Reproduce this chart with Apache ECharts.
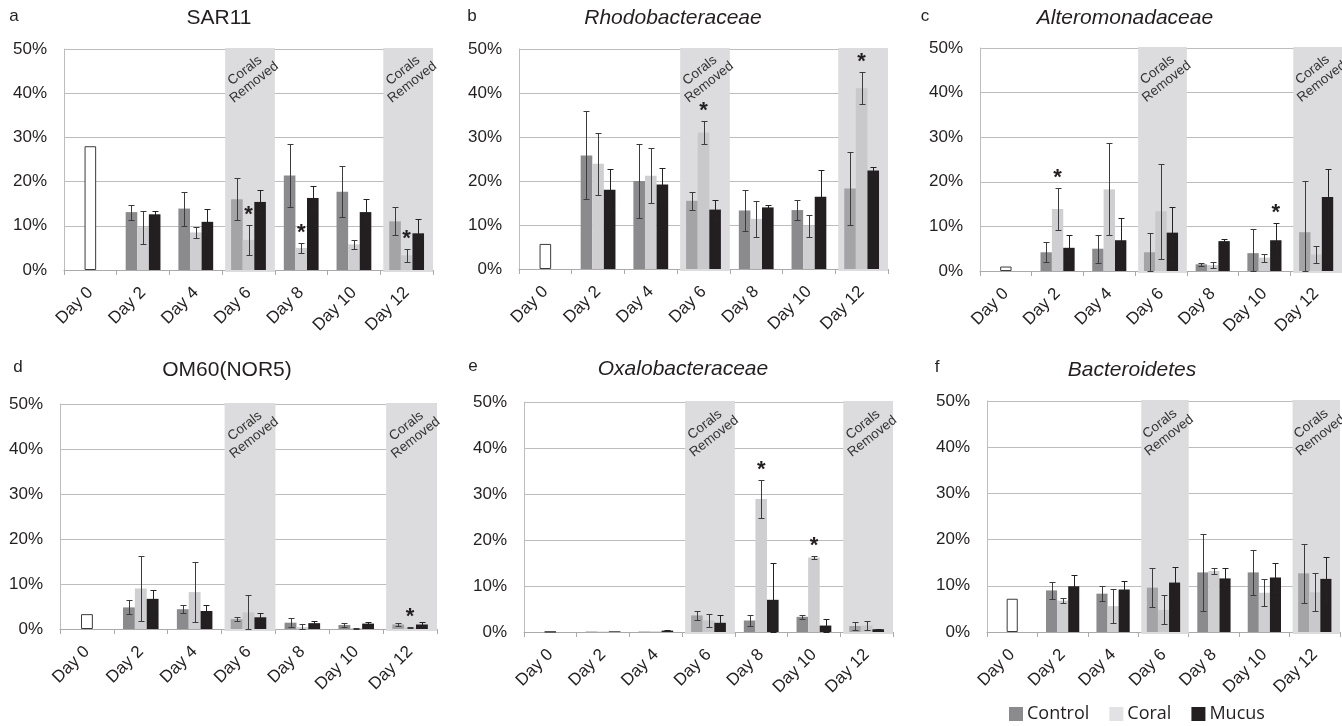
<!DOCTYPE html>
<html>
<head>
<meta charset="utf-8">
<script src="https://cdn.jsdelivr.net/npm/echarts@6/dist/echarts.min.js"></script>
<style>
  html, body { margin: 0; padding: 0; background: #ffffff; }
  #chart { width: 1342px; height: 726px; }
</style>
</head>
<body>
<div id="chart"></div>
<script>
// Sampling days and treatments
const days = ['Day 0', 'Day 2', 'Day 4', 'Day 6', 'Day 8', 'Day 10', 'Day 12'];
const groups = ['Control', 'Coral', 'Mucus'];
const removalDays = [3, 6];            // indices of 'Day 6' and 'Day 12'
const yTicks = [0, 10, 20, 30, 40, 50];

const panelLetters = ['a', 'b', 'c', 'd', 'e', 'f'];
const panelTitles = ['SAR11', 'Rhodobacteraceae', 'Alteromonadaceae', 'OM60(NOR5)', 'Oxalobacteraceae', 'Bacteroidetes'];
const titleItalic = [false, true, true, false, true, true];
// which removal columns carry the "Corals Removed" note, per panel
const removalNotes = [[3, 6], [3], [3, 6], [3, 6], [3, 6], [3, 6]];

// Day 0 starting community (relative abundance, %)
const day0 = [28.0, 5.7, 1.0, 3.3, 0.05, 7.2];

// SAR11
const sar11Control   = [null, 13.1, 13.9, 16.0, 21.4, 17.7, 11.0];
const sar11ControlSd = [null, 1.7, 3.85, 4.75, 7.2, 5.8, 3.15];
const sar11Coral     = [null, 9.7, 8.5, 6.8, 5.0, 5.8, 3.3];
const sar11CoralSd   = [null, 3.75, 1.2, 3.45, 1.2, 0.95, 1.4];
const sar11Mucus     = [null, 12.6, 10.9, 15.4, 16.3, 13.1, 8.3];
const sar11MucusSd   = [null, 0.65, 2.9, 2.6, 2.7, 2.9, 3.2];
const sar11Sig       = [[3, 1], [4, 1], [6, 1]];

// Rhodobacteraceae
const rhodoControl   = [null, 25.8, 20.0, 15.5, 13.3, 13.4, 18.3];
const rhodoControlSd = [null, 10.0, 8.3, 2.1, 4.65, 2.35, 8.2];
const rhodoCoral     = [null, 23.9, 21.2, 31.0, 11.4, 9.8, 41.1];
const rhodoCoralSd   = [null, 7.05, 6.2, 2.65, 4.05, 2.45, 3.65];
const rhodoMucus     = [null, 18.0, 19.2, 13.5, 14.0, 16.4, 22.4];
const rhodoMucusSd   = [null, 4.7, 3.8, 2.2, 0.5, 6.1, 0.8];
const rhodoSig       = [[3, 1], [6, 1]];

// Alteromonadaceae
const alteroControl   = [null, 4.2, 5.0, 4.2, 1.5, 4.0, 8.7];
const alteroControlSd = [null, 2.25, 3.15, 4.4, 0.35, 5.4, 11.5];
const alteroCoral     = [null, 13.9, 18.3, 13.4, 1.3, 3.0, 3.7];
const alteroCoralSd   = [null, 4.7, 10.3, 10.7, 0.65, 0.9, 2.0];
const alteroMucus     = [null, 5.2, 6.9, 8.6, 6.7, 6.9, 16.6];
const alteroMucusSd   = [null, 2.8, 4.9, 5.8, 0.5, 3.8, 6.2];
const alteroSig       = [[1, 1], [5, 2]];

// OM60(NOR5)
const om60Control   = [null, 4.8, 4.4, 2.2, 1.4, 0.9, 1.0];
const om60ControlSd = [null, 1.55, 0.95, 0.45, 0.95, 0.45, 0.3];
const om60Coral     = [null, 9.0, 8.2, 3.7, 0.4, 0.2, 0.3];
const om60CoralSd   = [null, 7.3, 6.65, 3.9, 0.7, 0.1, 0.15];
const om60Mucus     = [null, 6.7, 4.0, 2.6, 1.3, 1.2, 1.0];
const om60MucusSd   = [null, 2.0, 1.3, 0.9, 0.5, 0.4, 0.5];
const om60Sig       = [[6, 1]];

// Oxalobacteraceae
const oxaloControl   = [null, 0.1, 0.1, 3.6, 2.5, 3.3, 1.3];
const oxaloControlSd = [null, 0, 0, 1.05, 1.15, 0.5, 0.9];
const oxaloCoral     = [null, 0.1, 0.15, 2.5, 28.9, 16.2, 1.4];
const oxaloCoralSd   = [null, 0, 0, 1.35, 4.1, 0.25, 1.05];
const oxaloMucus     = [null, 0.15, 0.3, 2.0, 7.0, 1.4, 0.6];
const oxaloMucusSd   = [null, 0, 0.1, 1.7, 7.9, 1.4, 0.1];
const oxaloSig       = [[4, 1], [5, 1]];

// Bacteroidetes
const bactControl   = [null, 9.0, 8.3, 9.6, 12.9, 12.9, 12.7];
const bactControlSd = [null, 1.75, 1.65, 4.15, 8.25, 4.85, 6.45];
const bactCoral     = [null, 6.8, 5.6, 4.8, 13.2, 8.5, 8.6];
const bactCoralSd   = [null, 0.5, 3.75, 3.15, 0.65, 2.95, 4.1];
const bactMucus     = [null, 9.9, 9.2, 10.7, 11.6, 11.8, 11.5];
const bactMucusSd   = [null, 2.5, 1.9, 3.4, 2.3, 3.2, 4.8];
const bactSig       = [];

const panels = [
  { means: [sar11Control, sar11Coral, sar11Mucus], sds: [sar11ControlSd, sar11CoralSd, sar11MucusSd], sig: sar11Sig },
  { means: [rhodoControl, rhodoCoral, rhodoMucus], sds: [rhodoControlSd, rhodoCoralSd, rhodoMucusSd], sig: rhodoSig },
  { means: [alteroControl, alteroCoral, alteroMucus], sds: [alteroControlSd, alteroCoralSd, alteroMucusSd], sig: alteroSig },
  { means: [om60Control, om60Coral, om60Mucus], sds: [om60ControlSd, om60CoralSd, om60MucusSd], sig: om60Sig },
  { means: [oxaloControl, oxaloCoral, oxaloMucus], sds: [oxaloControlSd, oxaloCoralSd, oxaloMucusSd], sig: oxaloSig },
  { means: [bactControl, bactCoral, bactMucus], sds: [bactControlSd, bactCoralSd, bactMucusSd], sig: bactSig }
];

// Layout of the six plot areas (px)
const gridBoxes = [
  { left: 64,  top: 49,  width: 369, height: 221 },
  { left: 519, top: 49,  width: 369, height: 220 },
  { left: 980, top: 48,  width: 364, height: 223 },
  { left: 60,  top: 404, width: 377, height: 225 },
  { left: 524, top: 402, width: 369, height: 230 },
  { left: 987, top: 401, width: 353, height: 231 }
];
const letterPos = [[14, 16], [472, 16], [925, 16], [18, 367], [473, 366], [937, 367]];
const titlePos  = [[219, 18], [673, 18], [1125, 18], [227, 370], [683, 369], [1132, 370]];

const barColors     = ['#8b8b8d', '#cfcfd1', '#231f20'];
const barColorsBand = ['#a4a4a6', '#c9c9cb', '#231f20'];
const BAR_FRAC = 0.22;
const FONT = '"Liberation Sans", Arial, sans-serif';
const INK = '#231f20';
const GRIDLINE = '#bdbdbd';

const grids = [], xAxes = [], yAxes = [], series = [], graphics = [];

panels.forEach((p, i) => {
  grids.push(Object.assign({ containLabel: false }, gridBoxes[i]));
  xAxes.push({
    type: 'category', gridIndex: i, data: days, boundaryGap: true,
    axisLine: { show: true, lineStyle: { color: '#aaaaaa', width: 1 } },
    axisTick: { show: true, length: 5, lineStyle: { color: '#aaaaaa' } },
    axisLabel: { rotate: 45, fontSize: 17, color: INK, fontFamily: FONT, margin: 20, interval: 0 },
    splitLine: { show: false }
  });
  yAxes.push({
    type: 'value', gridIndex: i, min: yTicks[0], max: yTicks[yTicks.length - 1], interval: 10,
    axisLine: { show: true, lineStyle: { color: GRIDLINE } },
    axisTick: { show: false },
    axisLabel: { formatter: '{value}%', fontSize: 17, color: INK, fontFamily: FONT, margin: 17 },
    splitLine: { show: true, lineStyle: { color: GRIDLINE, width: 1 } }
  });

  // shaded "Corals Removed" columns
  series.push({
    type: 'custom', xAxisIndex: i, yAxisIndex: i, z: 1, silent: true,
    data: removalDays.map(d => [d]),
    encode: { x: 0 },
    renderItem: (params, api) => {
      const idx = api.value(0);
      const band = api.size([1, 0])[0];
      const c = api.coord([idx, yTicks[yTicks.length - 1]]);
      const b = api.coord([idx, 0]);
      const x0 = c[0] - band / 2 + 3;
      return { type: 'rect', shape: { x: x0, y: c[1] - 1, width: band - 3, height: b[1] - c[1] + 3 },
               style: { fill: '#dcdcde' } };
    }
  });

  // bars: Control / Coral (with the Day 0 baseline in the centre slot) / Mucus
  groups.forEach((g, gi) => {
    const data = p.means[gi].map((v, di) => {
      if (di === 0) {
        if (gi === 1) return { value: day0[i], itemStyle: { color: '#ffffff', borderColor: '#3a3a3a', borderWidth: 1 } };
        return '-';
      }
      const inBand = removalDays.indexOf(di) >= 0;
      return { value: v, itemStyle: { color: inBand ? barColorsBand[gi] : barColors[gi] } };
    });
    series.push({
      type: 'bar', name: g, xAxisIndex: i, yAxisIndex: i, z: 2,
      barWidth: (BAR_FRAC * 100) + '%', barGap: '0%',
      itemStyle: { color: barColors[gi] },
      data: data, silent: true
    });
  });

  // error bars (mean ± SD)
  const errData = [];
  groups.forEach((g, gi) => {
    p.means[gi].forEach((v, di) => {
      if (v === null) return;
      if (p.sds[gi][di] > 0) errData.push([di, gi, v, p.sds[gi][di]]);
    });
  });
  series.push({
    type: 'custom', xAxisIndex: i, yAxisIndex: i, z: 3, silent: true,
    data: errData, encode: { x: 0, y: 2 },
    renderItem: (params, api) => {
      const di = api.value(0), gi = api.value(1), m = api.value(2), sd = api.value(3);
      const band = api.size([1, 0])[0];
      const bw = band * BAR_FRAC;
      const x = Math.round(api.coord([di, 0])[0] + (gi - 1) * bw) + 0.5;
      const yLo = Math.round(api.coord([di, Math.max(0, m - sd)])[1]) + 0.5;
      const yHi = Math.round(api.coord([di, m + sd])[1]) + 0.5;
      const cap = 3;
      const st = { stroke: gi === 2 ? '#222222' : '#3c3c3c', lineWidth: 1 };
      return { type: 'group', children: [
        { type: 'line', shape: { x1: x, y1: yLo, x2: x, y2: yHi }, style: st },
        { type: 'line', shape: { x1: x - cap, y1: yHi, x2: x + cap, y2: yHi }, style: st },
        { type: 'line', shape: { x1: x - cap, y1: yLo, x2: x + cap, y2: yLo }, style: st }
      ] };
    }
  });

  // significance asterisks above the flagged bars
  const sigData = p.sig.map(([di, gi]) => [di, gi, p.means[gi][di], p.sds[gi][di]]);
  series.push({
    type: 'custom', xAxisIndex: i, yAxisIndex: i, z: 4, silent: true,
    data: sigData, encode: { x: 0, y: 2 },
    renderItem: (params, api) => {
      const di = api.value(0), gi = api.value(1), m = api.value(2), sd = api.value(3);
      const band = api.size([1, 0])[0];
      const x = api.coord([di, 0])[0] + (gi - 1) * band * BAR_FRAC;
      const y = api.coord([di, m + sd])[1];
      return { type: 'text', x: x, y: y + 1,
               style: { text: '*', fill: INK, font: 'bold 22px ' + FONT, align: 'center', verticalAlign: 'bottom' } };
    }
  });

  // "Corals Removed" notes
  series.push({
    type: 'custom', xAxisIndex: i, yAxisIndex: i, z: 4, silent: true,
    data: removalNotes[i].map(d => [d, 44]), encode: { x: 0, y: 1 },
    renderItem: (params, api) => {
      const pt = api.coord([api.value(0), api.value(1)]);
      return { type: 'text', x: pt[0] + 1, y: pt[1] + 1, rotation: 38 * Math.PI / 180,
               style: { text: 'Corals\nRemoved', fill: '#333333', font: '13.5px ' + FONT,
                        align: 'center', verticalAlign: 'middle', lineHeight: 15 } };
    }
  });

  graphics.push({ type: 'text', x: letterPos[i][0], y: letterPos[i][1],
    style: { text: panelLetters[i], fill: INK, font: '17px ' + FONT, align: 'center', verticalAlign: 'middle' } });
  graphics.push({ type: 'text', x: titlePos[i][0], y: titlePos[i][1],
    style: { text: panelTitles[i], fill: INK, font: (titleItalic[i] ? 'italic ' : '') + '21px ' + FONT,
             align: 'center', verticalAlign: 'middle' } });
});

const chart = echarts.init(document.getElementById('chart'), null, { renderer: 'canvas' });
chart.setOption({
  animation: false,
  backgroundColor: '#ffffff',
  grid: grids,
  xAxis: xAxes,
  yAxis: yAxes,
  series: series,
  graphic: graphics,
  legend: {
    left: 1004, top: 700, itemWidth: 14, itemHeight: 14, itemGap: 20, icon: 'rect',
    selectedMode: false,
    textStyle: { fontFamily: '"Open Sans", sans-serif', fontSize: 18, color: INK, padding: [0, 0, 0, -1] },
    data: [
      { name: 'Control', itemStyle: { color: '#8b8b8d' } },
      { name: 'Coral', itemStyle: { color: '#e2e2e4' } },
      { name: 'Mucus', itemStyle: { color: '#231f20' } }
    ]
  }
});
</script>
</body>
</html>
